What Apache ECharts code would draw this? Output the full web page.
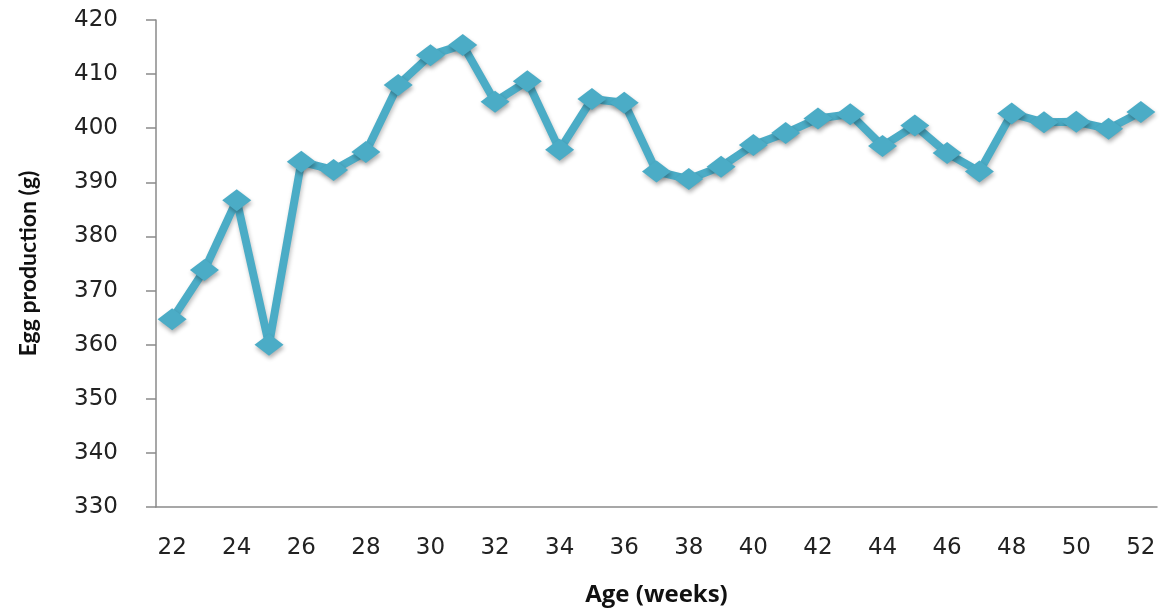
<!DOCTYPE html>
<html>
<head>
<meta charset="utf-8">
<title>Egg production by age</title>
<script src="https://cdn.jsdelivr.net/npm/echarts@6/dist/echarts.min.js"></script>
<style>
  html, body { margin: 0; padding: 0; background: #ffffff; }
  #chart { width: 1168px; height: 612px; }
</style>
</head>
<body>
<div id="chart"></div>
<script>
// Age in weeks
const ages = [22, 23, 24, 25, 26, 27, 28, 29, 30, 31, 32, 33, 34, 35, 36, 37,
              38, 39, 40, 41, 42, 43, 44, 45, 46, 47, 48, 49, 50, 51, 52];
// Egg production (g)
const eggProduction = [364.7, 373.8, 386.7, 360.0, 393.8, 392.3, 395.6, 408.0,
                       413.5, 415.4, 404.9, 408.7, 396.0, 405.4, 404.7, 392.0,
                       390.6, 392.9, 396.9, 399.1, 401.8, 402.6, 396.7, 400.5,
                       395.4, 392.0, 402.7, 401.1, 401.2, 399.9, 403.0];
// Value axis range and step
const yMin = 330, yMax = 420, yStep = 10;

const lineColor = '#4BACC6';
const axisColor = '#8a8a8a';

const chart = echarts.init(document.getElementById('chart'));
chart.setOption({
  backgroundColor: '#ffffff',
  animation: false,
  grid: { left: 156, right: 11, top: 20, bottom: 105, containLabel: false },
  xAxis: {
    type: 'category',
    data: ages.map(String),
    boundaryGap: true,
    name: 'Age (weeks)',
    nameLocation: 'middle',
    nameGap: 76,
    nameTextStyle: { fontFamily: 'Open Sans', fontWeight: 'bold', fontSize: 24, color: '#111' },
    axisLine: { lineStyle: { color: axisColor, width: 1.5 } },
    axisTick: { inside: true, length: 8, alignWithLabel: false, interval: 0, lineStyle: { color: axisColor, width: 1.5 } },
    axisLabel: { interval: 1, margin: 30, fontFamily: 'DejaVu Sans', fontSize: 23, color: '#222' },
    splitLine: { show: false }
  },
  yAxis: {
    type: 'value',
    min: yMin,
    max: yMax,
    interval: yStep,
    name: 'Egg production (g)',
    nameLocation: 'middle',
    nameGap: 116,
    nameRotate: 90,
    nameTextStyle: { fontFamily: 'Lato', fontWeight: 'bold', fontSize: 23, color: '#111' },
    axisLine: { show: true, lineStyle: { color: axisColor, width: 1.5 } },
    axisTick: { show: true, length: 10, lineStyle: { color: axisColor, width: 1.5 } },
    axisLabel: { margin: 38, fontFamily: 'DejaVu Sans', fontSize: 23, color: '#222' },
    splitLine: { show: false }
  },
  series: [{
    type: 'line',
    data: eggProduction,
    symbol: 'diamond',
    symbolSize: [29, 22],
    showAllSymbol: true,
    lineStyle: { color: lineColor, width: 8, shadowColor: 'rgba(0,0,0,0.25)', shadowBlur: 4, shadowOffsetX: 1, shadowOffsetY: 3 },
    itemStyle: { color: lineColor, borderWidth: 0, shadowColor: 'rgba(0,0,0,0.3)', shadowBlur: 4, shadowOffsetX: 1, shadowOffsetY: 3 },
    emphasis: { disabled: true }
  }]
});
</script>
</body>
</html>
